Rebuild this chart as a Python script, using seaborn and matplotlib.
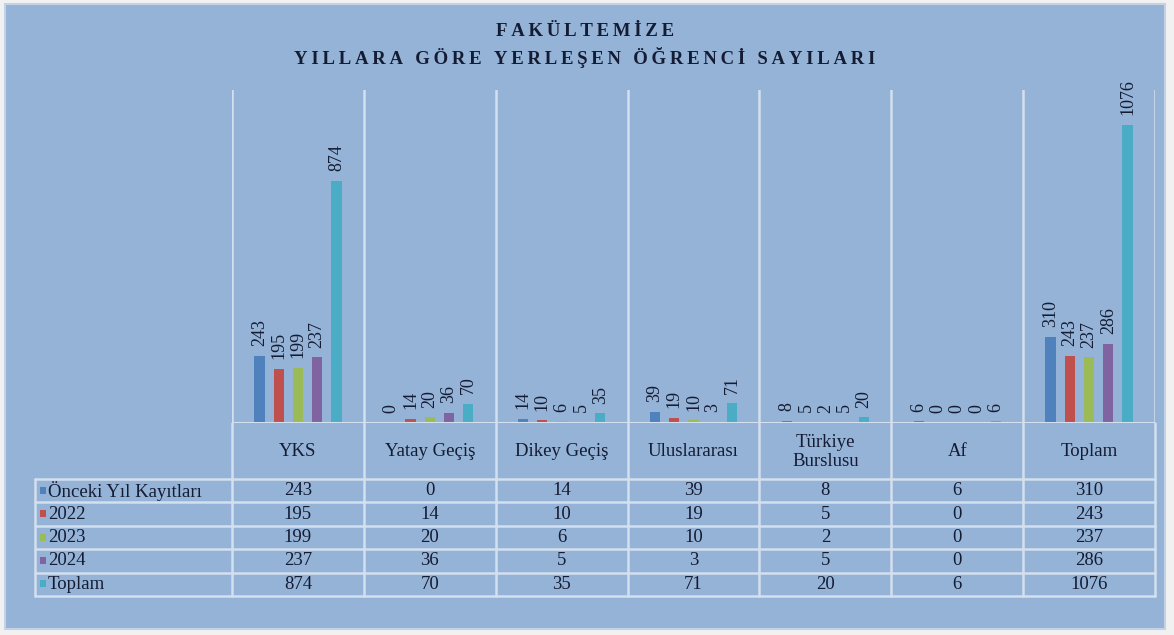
import pandas as pd
import seaborn as sns
import matplotlib.pyplot as plt
from matplotlib.patches import Rectangle

# DATA
categories = ['YKS', 'Yatay Geçiş', 'Dikey Geçiş', 'Uluslararası', 'Türkiye\nBurslusu', 'Af', 'Toplam']
series = ['Önceki Yıl Kayıtları', '2022', '2023', '2024', 'Toplam']
onceki = [243, 0, 14, 39, 8, 6, 310]
y2022 = [195, 14, 10, 19, 5, 0, 243]
y2023 = [199, 20, 6, 10, 2, 0, 237]
y2024 = [237, 36, 5, 3, 5, 0, 286]
toplam = [874, 70, 35, 71, 20, 6, 1076]
colors = ['#4f81bd', '#c0504d', '#9bbb59', '#8064a2', '#4bacc6']

values = [onceki, y2022, y2023, y2024, toplam]
rows = []
for s, vals in zip(series, values):
    for c, v in zip(categories, vals):
        rows.append({'cat': c, 'series': s, 'value': v})
df = pd.DataFrame(rows)

BG = '#95b3d7'
LINE = '#d3e0f0'
TXT = '#141c33'
SERIF = ['Liberation Serif', 'DejaVu Serif']

sns.set_theme(style='white')
plt.rcParams['font.family'] = SERIF

W, H = 1174, 635
fig = plt.figure(figsize=(W / 100, H / 100), dpi=100)
fig.patch.set_facecolor('#f1f1f1')

# background panel + overlay axes in pixel coords
ov = fig.add_axes([0, 0, 1, 1], zorder=0)
ov.set_xlim(0, W)
ov.set_ylim(H, 0)
ov.axis('off')
ov.add_patch(Rectangle((5, 4), 1160, 625, facecolor=BG, edgecolor='#c3d2e6', lw=1.5))

# bar axes
left, right, top, base = 232, 1155, 90, 423
ax = fig.add_axes([left / W, 1 - base / H, (right - left) / W, (base - top) / H], zorder=2)
ax.patch.set_alpha(0)
sns.barplot(data=df, x='cat', y='value', hue='series', palette=colors,
            width=0.73, gap=0.47, saturation=1, legend=False, ax=ax, order=categories,
            hue_order=series, linewidth=0, edgecolor='none')
for cont in ax.containers:
    ax.bar_label(cont, rotation=90, padding=7, fontsize=13, color=TXT, family=SERIF)
ax.set_xlim(-0.5, len(categories) - 0.5)
ax.set_ylim(0, 1202)
for i in range(len(categories) + 1):
    ax.axvline(i - 0.5, color=LINE, lw=1.8, zorder=0)
ax.axhline(0, color=LINE, lw=2.2)
ax.set_xticks([])
ax.set_yticks([])
ax.set_xlabel('')
ax.set_ylabel('')
for sp in ax.spines.values():
    sp.set_visible(False)

# title
ov.text(585, 32, '\u2009'.join('FAKÜLTEMİZE'), ha='center', va='center',
        fontsize=13.5, fontweight='bold', color=TXT, family=SERIF)
ov.text(585, 58, '\u2009'.join('YILLARA GÖRE YERLEŞEN ÖĞRENCİ SAYILARI'), ha='center', va='center',
        fontsize=13.5, fontweight='bold', color=TXT, family=SERIF)

# data table
col_w = (right - left) / len(categories)
col_x = [left + i * col_w for i in range(len(categories) + 1)]
tab_left = 35
head_bot = 479
row_h = 23.4
row_y = [head_bot + i * row_h for i in range(len(series) + 1)]

for x in col_x:
    ov.plot([x, x], [base, row_y[-1]], color=LINE, lw=1.8, zorder=1)
ov.plot([tab_left, tab_left], [head_bot, row_y[-1]], color=LINE, lw=1.8, zorder=1)
for y in row_y:
    ov.plot([tab_left, right], [y, y], color=LINE, lw=1.8, zorder=1)

for i, c in enumerate(categories):
    cx = (col_x[i] + col_x[i + 1]) / 2
    ov.text(cx, (base + head_bot) / 2 + 1, c, ha='center', va='center', fontsize=13.5,
            color=TXT, family=SERIF, linespacing=1.1)

for r, (s, vals, col) in enumerate(zip(series, values, colors)):
    cy = (row_y[r] + row_y[r + 1]) / 2
    ov.add_patch(Rectangle((40, cy - 4), 6, 7, facecolor=col, edgecolor='none'))
    ov.text(48, cy, s, ha='left', va='center', fontsize=13.5, color=TXT, family=SERIF)
    for i, v in enumerate(vals):
        cx = (col_x[i] + col_x[i + 1]) / 2
        ov.text(cx, cy, str(v), ha='center', va='center', fontsize=13.5, color=TXT, family=SERIF)

fig.savefig('out.png', dpi=100, facecolor=fig.get_facecolor())
